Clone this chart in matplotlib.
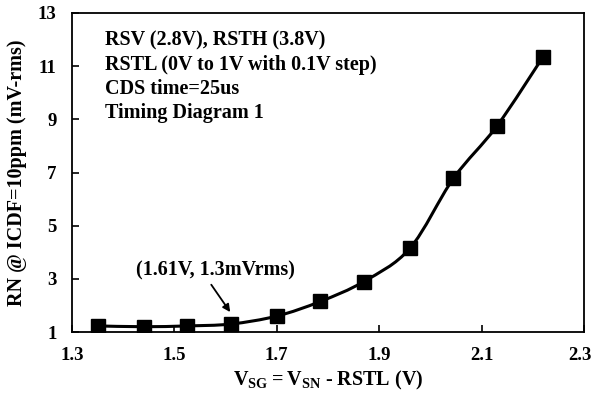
import matplotlib.pyplot as plt
import matplotlib.transforms as mtrans
from matplotlib.path import Path
from matplotlib.patches import PathPatch

plt.rcParams['font.family'] = 'Liberation Serif'
plt.rcParams['font.weight'] = 'bold'
plt.rcParams['axes.labelweight'] = 'bold'
plt.rcParams['mathtext.fontset'] = 'custom'
plt.rcParams['mathtext.rm'] = 'Liberation Serif:bold'
plt.rcParams['mathtext.bf'] = 'Liberation Serif:bold'

vsg = [1.35, 1.44, 1.525, 1.61, 1.70, 1.785, 1.87, 1.96, 2.045, 2.13, 2.22]
rn = [1.23, 1.20, 1.23, 1.30, 1.60, 2.15, 2.90, 4.15, 6.78, 8.75, 11.35]

xticks = [1.3, 1.5, 1.7, 1.9, 2.1, 2.3]
yticks = [1, 3, 5, 7, 9, 11, 13]

notes = ['RSV (2.8V), RSTH (3.8V)',
         'RSTL (0V to 1V with 0.1V step)',
         'CDS time=25us',
         'Timing Diagram 1']

fig = plt.figure(figsize=(5.94, 4.01), dpi=100)
ax = fig.add_axes([0.1212, 0.172, 0.862, 0.7956])

# smoothed line like Excel (bezier through the points)
verts = [(vsg[0], rn[0])]
codes = [Path.MOVETO]
n = len(vsg)
for i in range(n - 1):
    x0, y0 = vsg[max(i - 1, 0)], rn[max(i - 1, 0)]
    x1, y1 = vsg[i], rn[i]
    x2, y2 = vsg[i + 1], rn[i + 1]
    x3, y3 = vsg[min(i + 2, n - 1)], rn[min(i + 2, n - 1)]
    c1 = (x1 + (x2 - x0) / 6, y1 + (y2 - y0) / 6)
    c2 = (x2 - (x3 - x1) / 6, y2 - (y3 - y1) / 6)
    verts += [c1, c2, (x2, y2)]
    codes += [Path.CURVE4] * 3
ax.add_patch(PathPatch(Path(verts, codes), fill=False, lw=2.2, color='black', zorder=2))
ax.plot(vsg, rn, 's', color='black', markersize=10.5, zorder=3)

ax.set_xlim(1.3, 2.3)
ax.set_ylim(1, 13)
ax.set_xticks(xticks)
ax.set_yticks(yticks)
ax.set_xticklabels([f'{t:.1f}' for t in xticks])
ax.tick_params(direction='in', length=5, width=1.2, labelsize=13.5, pad=11)
for s in ax.spines.values():
    s.set_linewidth(1.3)

# nudge the last x label so it stays inside the picture
last = ax.get_xticklabels()[-1]
last.set_transform(last.get_transform() + mtrans.ScaledTranslation(-4 / 100, 0, fig.dpi_scale_trans))

ax.set_xlabel(r'$\mathbf{V_{SG}=V_{SN}}$ - RSTL (V)', fontsize=14.5, labelpad=3)
ax.set_ylabel('RN @ ICDF=10ppm (mV-rms)', fontsize=14.5, labelpad=8)

for i, t in enumerate(notes):
    ax.text(0.064, 0.913 - i * 0.076, t, transform=ax.transAxes, fontsize=14.5,
            va='center', ha='left')

ax.annotate('', xy=(1.609, 1.75), xytext=(1.572, 2.78),
            arrowprops=dict(arrowstyle='-|>', color='black', lw=1.3,
                            mutation_scale=11, shrinkA=0, shrinkB=0))
ax.text(1.581, 3.33, '(1.61V, 1.3mVrms)', fontsize=14.5, ha='center', va='center')

fig.savefig('out.png', dpi=100)
